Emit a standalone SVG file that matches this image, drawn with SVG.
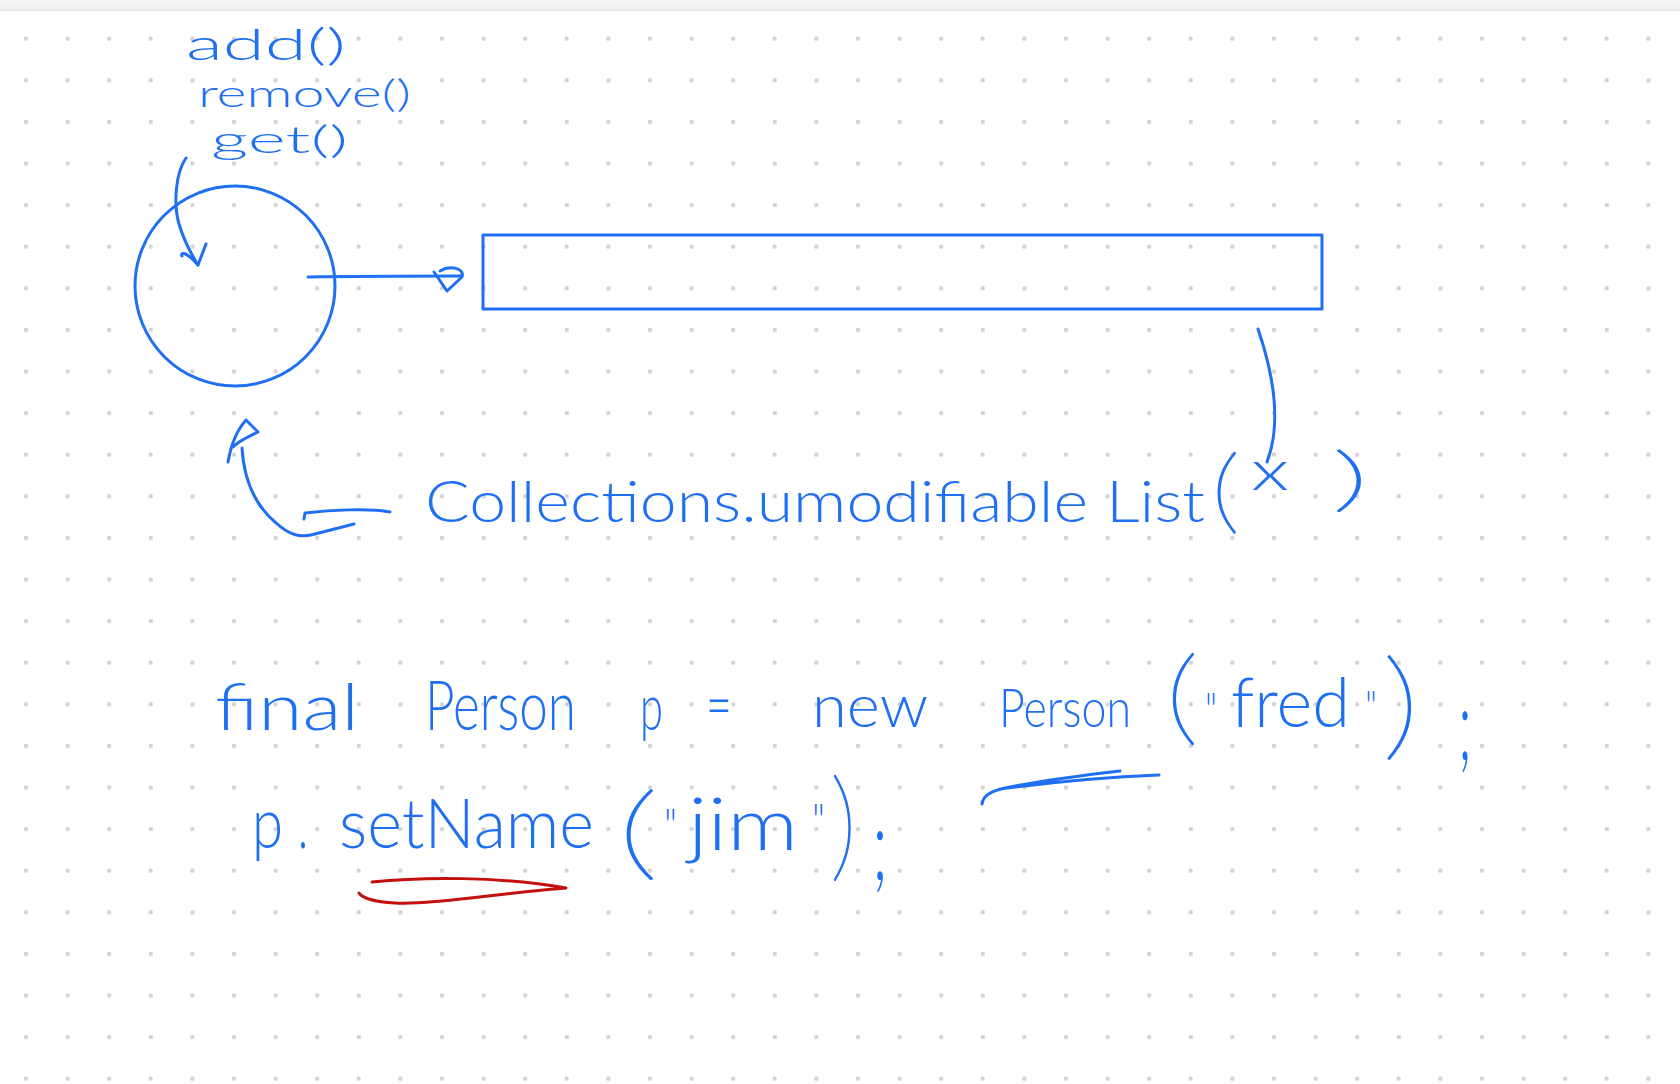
<svg xmlns="http://www.w3.org/2000/svg" width="1680" height="1084" viewBox="0 0 1680 1084">
<style>
.ink{fill:none;stroke:#1f6ff2;stroke-width:3;stroke-linecap:round;stroke-linejoin:round}
.red{fill:none;stroke:#c40f0f;stroke-width:3;stroke-linecap:round;stroke-linejoin:round}
.hw{fill:#1f6ff2;font-family:Lato,"Open Sans","Liberation Sans",sans-serif;font-weight:300}
.thin{font-weight:200;stroke:#1f6ff2;stroke-width:1.3}
</style>
<defs>
<pattern id="dots" x="5.2" y="17.9" width="41.6" height="41.6" patternUnits="userSpaceOnUse">
<circle cx="20.8" cy="20.8" r="2.2" fill="#d3d3d3"/>
</pattern>
<linearGradient id="bar" x1="0" y1="0" x2="0" y2="1">
<stop offset="0" stop-color="#f6f6f6"/><stop offset="1" stop-color="#ececec"/>
</linearGradient>
</defs>
<rect width="1680" height="1084" fill="#ffffff"/>
<rect width="1680" height="1084" fill="url(#dots)"/>
<rect width="1680" height="10.5" fill="url(#bar)"/>
<line x1="0" y1="10.5" x2="1680" y2="10.5" stroke="#e0e0e0" stroke-width="1"/>

<g id="methods">
<text class="hw"><tspan x="186" y="60" font-size="44" textLength="160" lengthAdjust="spacingAndGlyphs">add()</tspan><tspan x="198" y="107" font-size="38" textLength="213" lengthAdjust="spacingAndGlyphs">remove()</tspan><tspan x="211" y="153" font-size="38" textLength="137" lengthAdjust="spacingAndGlyphs">get()</tspan></text>
</g>

<g id="circle-node">
<circle class="ink" cx="235" cy="286" r="100"/>
</g>

<g id="list-box">
<rect class="ink" x="483" y="235" width="839" height="74"/>
</g>

<g id="unmodifiable-call">
<text class="hw" y="522" font-size="58"><tspan x="425" textLength="780" lengthAdjust="spacingAndGlyphs">Collections.umodifiable List</tspan><tspan class="thin" x="1211" font-size="92" textLength="29" lengthAdjust="spacingAndGlyphs">(</tspan><tspan x="1251" y="490" font-size="56" textLength="38" lengthAdjust="spacingAndGlyphs">x</tspan> <tspan class="thin" x="1332" y="503" font-size="70" textLength="37" lengthAdjust="spacingAndGlyphs">)</tspan></text>
</g>

<g id="code-line-1">
<text class="hw" y="730" font-size="66"><tspan x="215" textLength="144" lengthAdjust="spacingAndGlyphs">final</tspan> <tspan x="425" font-size="68" textLength="151" lengthAdjust="spacingAndGlyphs">Person</tspan> <tspan x="640" textLength="23" lengthAdjust="spacingAndGlyphs">p</tspan> <tspan x="706" y="728" textLength="26" lengthAdjust="spacingAndGlyphs">=</tspan> <tspan x="812" y="727" font-size="60" textLength="116" lengthAdjust="spacingAndGlyphs">new</tspan> <tspan x="999" font-size="54" textLength="132" lengthAdjust="spacingAndGlyphs">Person</tspan><tspan class="thin" x="1165" y="732" font-size="105" textLength="34" lengthAdjust="spacingAndGlyphs">(</tspan><tspan x="1205" y="728" font-size="50" textLength="12" lengthAdjust="spacingAndGlyphs">"</tspan><tspan x="1231" y="727" font-size="68" textLength="119" lengthAdjust="spacingAndGlyphs">fred</tspan><tspan x="1365" y="722" font-size="44" textLength="12" lengthAdjust="spacingAndGlyphs">"</tspan><tspan class="thin" x="1382" y="745" font-size="118" textLength="38" lengthAdjust="spacingAndGlyphs">)</tspan><tspan x="1458" y="760" font-size="100" textLength="14" lengthAdjust="spacingAndGlyphs">;</tspan></text>
</g>

<g id="code-line-2">
<text class="hw" y="848" font-size="70"><tspan x="252" textLength="31" lengthAdjust="spacingAndGlyphs">p</tspan><tspan x="298" textLength="10" lengthAdjust="spacingAndGlyphs">.</tspan><tspan x="339" font-size="69" textLength="255" lengthAdjust="spacingAndGlyphs">setName</tspan><tspan class="thin" x="617" y="867" font-size="102" textLength="42" lengthAdjust="spacingAndGlyphs">(</tspan><tspan x="664" y="843" font-size="48" textLength="13" lengthAdjust="spacingAndGlyphs">"</tspan><tspan x="688" y="850" font-size="72" textLength="110" lengthAdjust="spacingAndGlyphs">jim</tspan><tspan x="812" y="838" font-size="48" textLength="13" lengthAdjust="spacingAndGlyphs">"</tspan><tspan class="thin" x="830" y="866" font-size="120" textLength="27" lengthAdjust="spacingAndGlyphs">)</tspan><tspan x="872" y="880" font-size="100" textLength="16" lengthAdjust="spacingAndGlyphs">;</tspan></text>
</g>

<g id="connectors">
<path class="ink" d="M186,158 C176,172 173,203 179,224 C185,244 193,257 198,265"/>
<path class="ink" d="M182,256 C180,252 186,251 198,265 L206,244"/>
<path class="ink" d="M308,277 C360,276 420,276 461,276"/>
<path class="ink" d="M434,272 L447,291 L462,277 C465,268 450,265 440,271"/>
<path class="ink" d="M1258,329 C1272,370 1283,420 1267,462"/>
<path class="ink" d="M304,519 L305,513 C330,510 370,508 390,512"/>
<path class="ink" d="M242,448 C244,480 255,505 275,522 C290,536 300,537 311,535 L354,524"/>
<path class="ink" d="M228,462 C231,445 237,430 246,420 L258,432 C250,436 240,440 233,447"/>
<path class="ink" stroke-width="3.5" d="M982,804 C983,795 992,791 1005,788 C1040,781 1085,775 1120,771 M1000,789 C1060,781 1110,777 1159,775"/>
<path class="red" d="M372,882 C420,877 500,876 566,888 C500,893 430,905 395,903 C375,902 362,898 359,893"/>
</g>
</svg>
